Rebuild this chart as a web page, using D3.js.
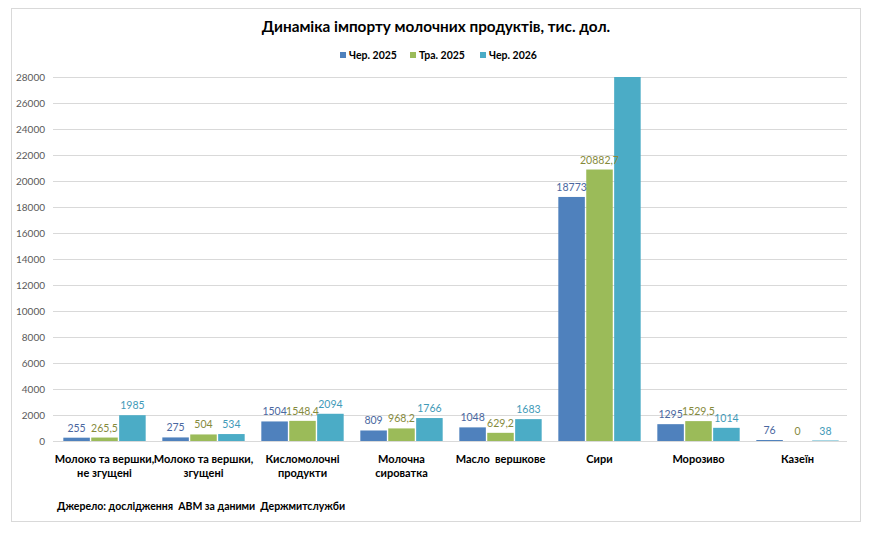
<!DOCTYPE html>
<html>
<head>
<meta charset="utf-8">
<script src="https://cdn.jsdelivr.net/npm/d3@7"></script>
<style>
  body { margin: 0; background: #fff; }
  text { font-family: Lato, "Open Sans", sans-serif; }
</style>
</head>
<body>
<svg id="chart" width="876" height="533"></svg>
<script>
// data
var categories = ["Молоко та вершки, не згущені", "Молоко та вершки, згущені", "Кисломолочні продукти",
                  "Молочна сироватка", "Масло вершкове", "Сири", "Морозиво", "Казеїн"];
var labelLines = [["Молоко та вершки,", "не згущені"], ["Молоко та вершки,", "згущені"], ["Кисломолочні", "продукти"],
                  ["Молочна", "сироватка"], ["Масло  вершкове"], ["Сири"], ["Морозиво"], ["Казеїн"]];
var seriesNames = ["Чер. 2025", "Тра. 2025", "Чер. 2026"];
var jun2025 = [255, 275, 1504, 809, 1048, 18773, 1295, 76];
var may2025 = [265.5, 504, 1548.4, 968.2, 629.2, 20882.7, 1529.5, 0];
var jun2026 = [1985, 534, 2094, 1766, 1683, 30500, 1014, 38]; // Сири clipped above axis max
var yTicks = d3.range(0, 28001, 2000);

var colors = ["#4f81bd", "#9bbb59", "#4bacc6"];
var labelColors = ["#4a67a0", "#858a3c", "#3f9ab8"];

var svg = d3.select("#chart");
var margin = { top: 77, right: 29, bottom: 92, left: 55 },
    width = 876 - margin.left - margin.right,
    height = 533 - margin.top - margin.bottom;

// frame
svg.append("rect")
    .attr("x", 11.5).attr("y", 8.5).attr("width", 849).attr("height", 513)
    .attr("fill", "#fff").attr("stroke", "#d9d9d9");

var g = svg.append("g").attr("transform", "translate(" + margin.left + "," + margin.top + ")");

var x0 = d3.scaleBand().domain(categories).range([0, width]).paddingInner(0.14).paddingOuter(0.07);
var x1 = d3.scaleBand().domain([0, 1, 2]).range([0, x0.bandwidth()]).padding(0.05);
var y = d3.scaleLinear().domain([0, 28000]).range([height, 0]);

var yAxis = d3.axisLeft(y).tickValues(yTicks).tickSize(-width).tickPadding(10)
    .tickFormat(d3.format("d"));
var ya = g.append("g").call(yAxis);
ya.select(".domain").remove();
ya.selectAll(".tick line").attr("stroke", "#d9d9d9").attr("x1", -2);
ya.selectAll(".tick text").attr("fill", "#595959").style("font-size", "10px");

var series = [jun2025, may2025, jun2026];
var groups = g.selectAll(".grp").data(categories).enter().append("g")
    .attr("transform", function(d) { return "translate(" + x0(d) + ",0)"; });

series.forEach(function(vals, s) {
  groups.append("rect")
      .attr("x", x1(s))
      .attr("width", x1.bandwidth())
      .attr("y", function(d, i) { return y(Math.min(vals[i], 28000)); })
      .attr("height", function(d, i) { return height - y(Math.min(vals[i], 28000)); })
      .attr("fill", colors[s]);
});

// data labels drawn after all bars so none get covered
series.forEach(function(vals, s) {
  groups.filter(function(d, i) { return vals[i] <= 28000; })
    .append("text")
      .attr("x", x1(s) + x1.bandwidth() / 2)
      .attr("y", function(d) { var i = categories.indexOf(d); return y(vals[i]) - 6; })
      .attr("text-anchor", "middle")
      .attr("fill", labelColors[s])
      .style("font-size", "10.5px")
      .text(function(d) { var i = categories.indexOf(d); return String(vals[i]).replace(".", ","); });
});

// x axis line
g.append("line").attr("x1", 0).attr("x2", width).attr("y1", height + 0.5).attr("y2", height + 0.5)
    .attr("stroke", "#d9d9d9");

// category labels
groups.append("text")
    .attr("x", x0.bandwidth() / 2)
    .attr("y", height + 22)
    .attr("text-anchor", "middle")
    .style("font-size", "11px").style("font-weight", "bold").attr("fill", "#000")
    .selectAll("tspan")
    .data(function(d) { return labelLines[categories.indexOf(d)]; })
    .enter().append("tspan")
      .attr("x", x0.bandwidth() / 2)
      .attr("dy", function(d, i) { return i ? 14 : 0; })
      .attr("xml:space", "preserve")
      .text(function(d) { return d; });

// title
svg.append("text").attr("x", 436).attr("y", 32).attr("text-anchor", "middle")
    .style("font-size", "15.3px").style("font-weight", "bold").attr("fill", "#000")
    .text("Динаміка імпорту молочних продуктів, тис. дол.");

// legend
var legend = svg.append("g").attr("transform", "translate(340,59)");
var offs = [0, 70, 140];
seriesNames.forEach(function(n, i) {
  legend.append("rect").attr("x", offs[i]).attr("y", -7).attr("width", 6).attr("height", 6).attr("fill", colors[i]);
  legend.append("text").attr("x", offs[i] + 9).attr("y", 0)
      .style("font-size", "10.5px").style("font-weight", "bold").attr("fill", "#000").text(n);
});

// source
svg.append("text").attr("x", 57).attr("y", 510)
    .style("font-size", "10.5px").style("font-weight", "bold").attr("fill", "#000")
    .attr("xml:space", "preserve")
    .text("Джерело: дослідження  АВМ за даними  Держмитслужби");
</script>
</body>
</html>
